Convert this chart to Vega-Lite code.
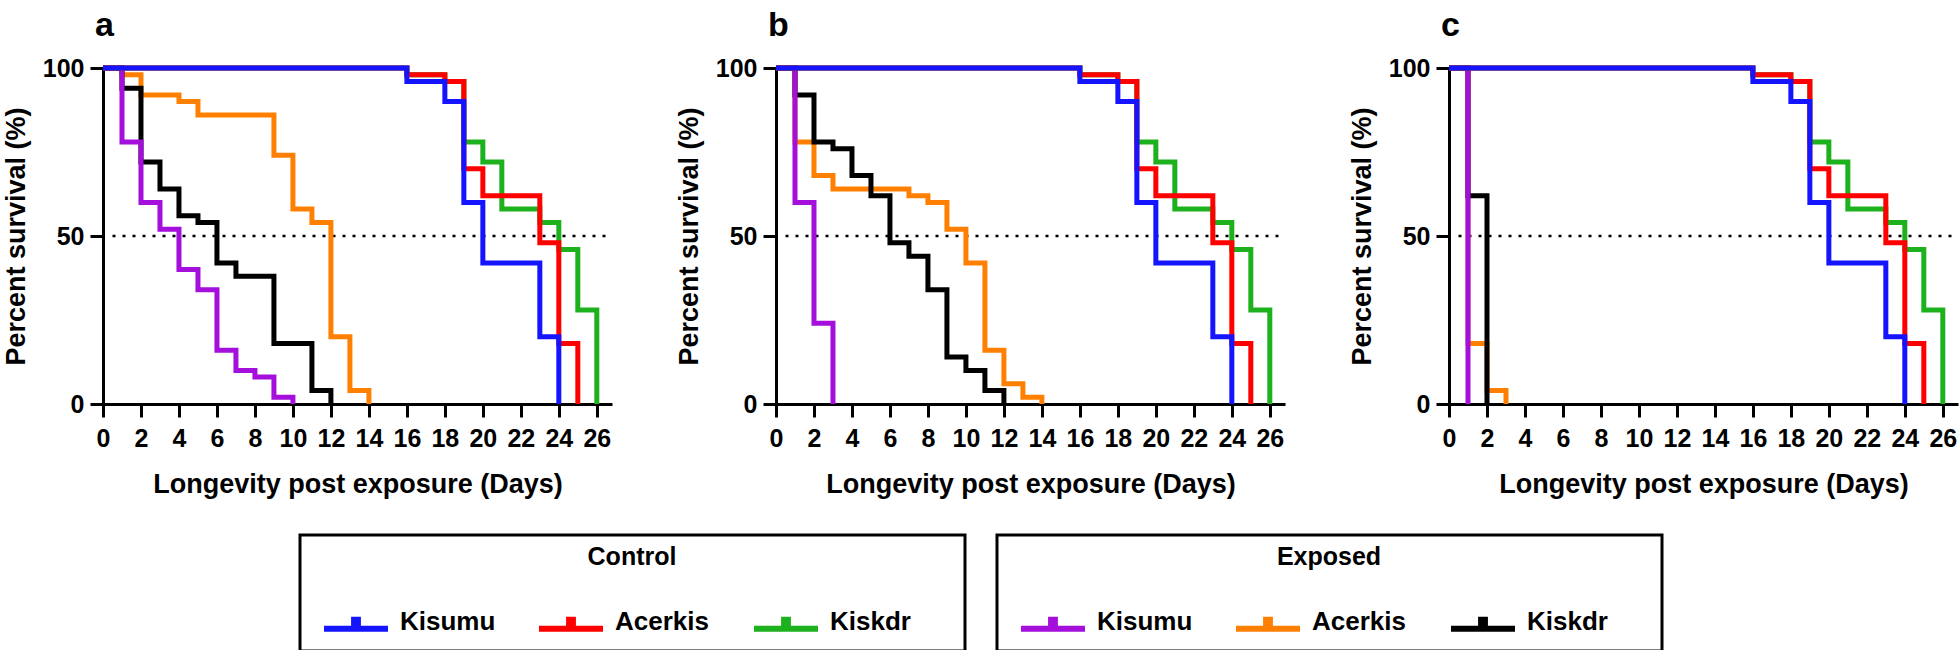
{
  "$schema": "https://vega.github.io/schema/vega-lite/v6.json",
  "background": "white",
  "padding": {"left": 2, "top": 9, "right": 0, "bottom": 0},
  "config": {
    "view": {"stroke": null},
    "font": "Liberation Sans",
    "axis": {
      "domainColor": "black", "domainWidth": 3, "tickColor": "black", "tickWidth": 3, "tickSize": 13,
      "labelFont": "Liberation Sans", "labelFontSize": 25, "labelFontWeight": "bold", "labelColor": "black",
      "titleFont": "Liberation Sans", "titleFontSize": 27, "titleFontWeight": "bold", "titleColor": "black",
      "grid": false, "labelFlush": false, "labelOverlap": false
    },
    "title": {"font": "Liberation Sans", "fontSize": 34, "fontWeight": "bold", "color": "black", "anchor": "start", "frame": "group"},
    "legend": {
      "orient": "none", "direction": "horizontal", "columns": 3,
      "titleAnchor": "middle", "titleFont": "Liberation Sans", "titleFontSize": 25, "titleFontWeight": "bold", "titleColor": "black", "titlePadding": 33,
      "labelFont": "Liberation Sans", "labelFontSize": 26, "labelFontWeight": "bold", "labelColor": "black", "labelOffset": 25,
      "symbolType": "M-2,0.4H2M-0.12,0.4V-0.35M0,0.4V-0.35M0.12,0.4V-0.35M9.8,0.4", "symbolSize": 1024, "symbolStrokeWidth": 6, "symbolOffset": 27,
      "columnPadding": 0, "padding": 10, "strokeColor": "black"
    }
  },
  "datasets": {
    "control": [
      {"control": "Kiskdr", "day": 0, "survival": 100}, {"control": "Kiskdr", "day": 16, "survival": 98}, {"control": "Kiskdr", "day": 18, "survival": 96}, {"control": "Kiskdr", "day": 19, "survival": 78}, {"control": "Kiskdr", "day": 20, "survival": 72}, {"control": "Kiskdr", "day": 21, "survival": 58}, {"control": "Kiskdr", "day": 23, "survival": 54}, {"control": "Kiskdr", "day": 24, "survival": 46}, {"control": "Kiskdr", "day": 25, "survival": 28}, {"control": "Kiskdr", "day": 26, "survival": 0},
      {"control": "Acerkis", "day": 0, "survival": 100}, {"control": "Acerkis", "day": 16, "survival": 98}, {"control": "Acerkis", "day": 18, "survival": 96}, {"control": "Acerkis", "day": 19, "survival": 70}, {"control": "Acerkis", "day": 20, "survival": 62}, {"control": "Acerkis", "day": 23, "survival": 48}, {"control": "Acerkis", "day": 24, "survival": 18}, {"control": "Acerkis", "day": 25, "survival": 0},
      {"control": "Kisumu", "day": 0, "survival": 100}, {"control": "Kisumu", "day": 16, "survival": 96}, {"control": "Kisumu", "day": 18, "survival": 90}, {"control": "Kisumu", "day": 19, "survival": 60}, {"control": "Kisumu", "day": 20, "survival": 42}, {"control": "Kisumu", "day": 23, "survival": 20}, {"control": "Kisumu", "day": 24, "survival": 0}
    ],
    "exposed": [
      {"panel": "a", "exposed": "Acerkis", "day": 0, "survival": 100}, {"panel": "a", "exposed": "Acerkis", "day": 1, "survival": 98}, {"panel": "a", "exposed": "Acerkis", "day": 2, "survival": 92}, {"panel": "a", "exposed": "Acerkis", "day": 4, "survival": 90}, {"panel": "a", "exposed": "Acerkis", "day": 5, "survival": 86}, {"panel": "a", "exposed": "Acerkis", "day": 9, "survival": 74}, {"panel": "a", "exposed": "Acerkis", "day": 10, "survival": 58}, {"panel": "a", "exposed": "Acerkis", "day": 11, "survival": 54}, {"panel": "a", "exposed": "Acerkis", "day": 12, "survival": 20}, {"panel": "a", "exposed": "Acerkis", "day": 13, "survival": 4}, {"panel": "a", "exposed": "Acerkis", "day": 14, "survival": 0},
      {"panel": "a", "exposed": "Kiskdr", "day": 0, "survival": 100}, {"panel": "a", "exposed": "Kiskdr", "day": 1, "survival": 94}, {"panel": "a", "exposed": "Kiskdr", "day": 2, "survival": 72}, {"panel": "a", "exposed": "Kiskdr", "day": 3, "survival": 64}, {"panel": "a", "exposed": "Kiskdr", "day": 4, "survival": 56}, {"panel": "a", "exposed": "Kiskdr", "day": 5, "survival": 54}, {"panel": "a", "exposed": "Kiskdr", "day": 6, "survival": 42}, {"panel": "a", "exposed": "Kiskdr", "day": 7, "survival": 38}, {"panel": "a", "exposed": "Kiskdr", "day": 9, "survival": 18}, {"panel": "a", "exposed": "Kiskdr", "day": 11, "survival": 4}, {"panel": "a", "exposed": "Kiskdr", "day": 12, "survival": 0},
      {"panel": "a", "exposed": "Kisumu", "day": 0, "survival": 100}, {"panel": "a", "exposed": "Kisumu", "day": 1, "survival": 78}, {"panel": "a", "exposed": "Kisumu", "day": 2, "survival": 60}, {"panel": "a", "exposed": "Kisumu", "day": 3, "survival": 52}, {"panel": "a", "exposed": "Kisumu", "day": 4, "survival": 40}, {"panel": "a", "exposed": "Kisumu", "day": 5, "survival": 34}, {"panel": "a", "exposed": "Kisumu", "day": 6, "survival": 16}, {"panel": "a", "exposed": "Kisumu", "day": 7, "survival": 10}, {"panel": "a", "exposed": "Kisumu", "day": 8, "survival": 8}, {"panel": "a", "exposed": "Kisumu", "day": 9, "survival": 2}, {"panel": "a", "exposed": "Kisumu", "day": 10, "survival": 0},
      {"panel": "b", "exposed": "Acerkis", "day": 0, "survival": 100}, {"panel": "b", "exposed": "Acerkis", "day": 1, "survival": 78}, {"panel": "b", "exposed": "Acerkis", "day": 2, "survival": 68}, {"panel": "b", "exposed": "Acerkis", "day": 3, "survival": 64}, {"panel": "b", "exposed": "Acerkis", "day": 7, "survival": 62}, {"panel": "b", "exposed": "Acerkis", "day": 8, "survival": 60}, {"panel": "b", "exposed": "Acerkis", "day": 9, "survival": 52}, {"panel": "b", "exposed": "Acerkis", "day": 10, "survival": 42}, {"panel": "b", "exposed": "Acerkis", "day": 11, "survival": 16}, {"panel": "b", "exposed": "Acerkis", "day": 12, "survival": 6}, {"panel": "b", "exposed": "Acerkis", "day": 13, "survival": 2}, {"panel": "b", "exposed": "Acerkis", "day": 14, "survival": 0},
      {"panel": "b", "exposed": "Kiskdr", "day": 0, "survival": 100}, {"panel": "b", "exposed": "Kiskdr", "day": 1, "survival": 92}, {"panel": "b", "exposed": "Kiskdr", "day": 2, "survival": 78}, {"panel": "b", "exposed": "Kiskdr", "day": 3, "survival": 76}, {"panel": "b", "exposed": "Kiskdr", "day": 4, "survival": 68}, {"panel": "b", "exposed": "Kiskdr", "day": 5, "survival": 62}, {"panel": "b", "exposed": "Kiskdr", "day": 6, "survival": 48}, {"panel": "b", "exposed": "Kiskdr", "day": 7, "survival": 44}, {"panel": "b", "exposed": "Kiskdr", "day": 8, "survival": 34}, {"panel": "b", "exposed": "Kiskdr", "day": 9, "survival": 14}, {"panel": "b", "exposed": "Kiskdr", "day": 10, "survival": 10}, {"panel": "b", "exposed": "Kiskdr", "day": 11, "survival": 4}, {"panel": "b", "exposed": "Kiskdr", "day": 12, "survival": 0},
      {"panel": "b", "exposed": "Kisumu", "day": 0, "survival": 100}, {"panel": "b", "exposed": "Kisumu", "day": 1, "survival": 60}, {"panel": "b", "exposed": "Kisumu", "day": 2, "survival": 24}, {"panel": "b", "exposed": "Kisumu", "day": 3, "survival": 0},
      {"panel": "c", "exposed": "Acerkis", "day": 0, "survival": 100}, {"panel": "c", "exposed": "Acerkis", "day": 1, "survival": 18}, {"panel": "c", "exposed": "Acerkis", "day": 2, "survival": 4}, {"panel": "c", "exposed": "Acerkis", "day": 3, "survival": 0},
      {"panel": "c", "exposed": "Kiskdr", "day": 0, "survival": 100}, {"panel": "c", "exposed": "Kiskdr", "day": 1, "survival": 62}, {"panel": "c", "exposed": "Kiskdr", "day": 2, "survival": 0},
      {"panel": "c", "exposed": "Kisumu", "day": 0, "survival": 100}, {"panel": "c", "exposed": "Kisumu", "day": 1, "survival": 0}
    ]
  },
  "spacing": 61,
  "hconcat": [
    {
      "width": 509, "height": 336,
      "title": {"text": "a", "dx": -8, "offset": 13},
      "layer": [
        {"data": {"values": [{}]}, "mark": {"type": "rule", "strokeDash": [3, 7], "strokeWidth": 2.5, "color": "black"},
         "encoding": {"x": {"datum": 0.5, "type": "quantitative"}, "x2": {"datum": 26.8}, "y": {"datum": 50, "type": "quantitative"}}},
        {"data": {"name": "exposed"}, "transform": [{"filter": "datum.panel === 'a'"}],
         "mark": {"type": "line", "interpolate": "step-after", "strokeWidth": 5},
         "encoding": {
           "x": {"field": "day", "type": "quantitative", "scale": {"domain": [0, 26.8], "nice": false}, "axis": {"values": [0,2,4,6,8,10,12,14,16,18,20,22,24,26], "tickCount": 30, "title": "Longevity post exposure (Days)", "labelPadding": 9, "titlePadding": 20}},
           "y": {"field": "survival", "type": "quantitative", "scale": {"domain": [0, 100], "nice": false}, "axis": {"values": [0, 50, 100], "tickCount": 10, "title": "Percent survival (%)", "labelPadding": 6, "titlePadding": 12}},
           "stroke": {"field": "exposed", "type": "nominal", "sort": ["Kisumu", "Acerkis", "Kiskdr"], "scale": {"range": ["#A50FDB", "#FF8000", "#000000"]}, "legend": {"title": "Exposed", "legendX": 894, "legendY": 467, "encode": {"legend": {"update": {"strokeWidth": {"value": 3}}}}}}
         }},
        {"data": {"name": "control"},
         "mark": {"type": "line", "interpolate": "step-after", "strokeWidth": 5},
         "encoding": {
           "x": {"field": "day", "type": "quantitative"},
           "y": {"field": "survival", "type": "quantitative"},
           "color": {"field": "control", "type": "nominal", "scale": {"domain": ["Kisumu", "Acerkis", "Kiskdr"], "range": ["#1414FF", "#FF0000", "#1DB11D"]}, "legend": {"title": "Control", "legendX": 197, "legendY": 467, "encode": {"legend": {"update": {"strokeWidth": {"value": 3}}}}}}
         }}
      ]
    },
    {
      "width": 509, "height": 336,
      "title": {"text": "b", "dx": -8, "offset": 13},
      "layer": [
        {"data": {"values": [{}]}, "mark": {"type": "rule", "strokeDash": [3, 7], "strokeWidth": 2.5, "color": "black"},
         "encoding": {"x": {"datum": 0.5, "type": "quantitative"}, "x2": {"datum": 26.8}, "y": {"datum": 50, "type": "quantitative"}}},
        {"data": {"name": "exposed"}, "transform": [{"filter": "datum.panel === 'b'"}],
         "mark": {"type": "line", "interpolate": "step-after", "strokeWidth": 5},
         "encoding": {
           "x": {"field": "day", "type": "quantitative", "scale": {"domain": [0, 26.8], "nice": false}, "axis": {"values": [0,2,4,6,8,10,12,14,16,18,20,22,24,26], "tickCount": 30, "title": "Longevity post exposure (Days)", "labelPadding": 9, "titlePadding": 20}},
           "y": {"field": "survival", "type": "quantitative", "scale": {"domain": [0, 100], "nice": false}, "axis": {"values": [0, 50, 100], "tickCount": 10, "title": "Percent survival (%)", "labelPadding": 6, "titlePadding": 12}},
           "stroke": {"field": "exposed", "type": "nominal", "sort": ["Kisumu", "Acerkis", "Kiskdr"]}
         }},
        {"data": {"name": "control"},
         "mark": {"type": "line", "interpolate": "step-after", "strokeWidth": 5},
         "encoding": {
           "x": {"field": "day", "type": "quantitative"},
           "y": {"field": "survival", "type": "quantitative"},
           "color": {"field": "control", "type": "nominal"}
         }}
      ]
    },
    {
      "width": 509, "height": 336,
      "title": {"text": "c", "dx": -8, "offset": 13},
      "layer": [
        {"data": {"values": [{}]}, "mark": {"type": "rule", "strokeDash": [3, 7], "strokeWidth": 2.5, "color": "black"},
         "encoding": {"x": {"datum": 0.5, "type": "quantitative"}, "x2": {"datum": 26.8}, "y": {"datum": 50, "type": "quantitative"}}},
        {"data": {"name": "exposed"}, "transform": [{"filter": "datum.panel === 'c'"}],
         "mark": {"type": "line", "interpolate": "step-after", "strokeWidth": 5},
         "encoding": {
           "x": {"field": "day", "type": "quantitative", "scale": {"domain": [0, 26.8], "nice": false}, "axis": {"values": [0,2,4,6,8,10,12,14,16,18,20,22,24,26], "tickCount": 30, "title": "Longevity post exposure (Days)", "labelPadding": 9, "titlePadding": 20}},
           "y": {"field": "survival", "type": "quantitative", "scale": {"domain": [0, 100], "nice": false}, "axis": {"values": [0, 50, 100], "tickCount": 10, "title": "Percent survival (%)", "labelPadding": 6, "titlePadding": 12}},
           "stroke": {"field": "exposed", "type": "nominal", "sort": ["Kisumu", "Acerkis", "Kiskdr"]}
         }},
        {"data": {"name": "control"},
         "mark": {"type": "line", "interpolate": "step-after", "strokeWidth": 5},
         "encoding": {
           "x": {"field": "day", "type": "quantitative"},
           "y": {"field": "survival", "type": "quantitative"},
           "color": {"field": "control", "type": "nominal"}
         }}
      ]
    }
  ]
}
